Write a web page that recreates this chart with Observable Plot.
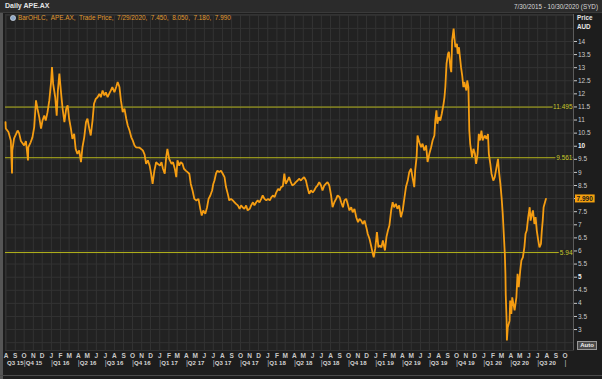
<!DOCTYPE html>
<html><head><meta charset="utf-8">
<script src="https://cdn.jsdelivr.net/npm/d3@7"></script>
<script src="https://cdn.jsdelivr.net/npm/@observablehq/plot@0.6"></script>
<style>
html,body{margin:0;padding:0;background:#1c1c1c;}
#wrap{position:relative;width:602px;height:379px;background:#1d1d1d;overflow:hidden;font-family:"Liberation Sans",Arial,sans-serif;box-sizing:border-box;}
#titlebar{position:absolute;left:0;top:0;width:602px;height:13px;background:#2b2b2b;border-bottom:1px solid #3a3a3a;box-sizing:border-box;}
#ttl{position:absolute;left:5px;top:2px;font-size:7px;font-weight:bold;color:#e4e4e4;}
#rng{position:absolute;right:4px;top:2.5px;font-size:6.3px;color:#d8d8d8;}
#chart{position:absolute;left:0;top:13px;}
#legend{position:absolute;left:10px;top:14px;font-size:6.4px;color:#e09a30;white-space:nowrap;display:flex;align-items:center;gap:2px;}
#price{position:absolute;left:577px;top:14px;font-size:6.3px;font-weight:bold;color:#e8e8e8;line-height:8.5px;}
#auto{position:absolute;left:577px;top:341px;width:18px;height:7px;border:1px solid #9a9a9a;background:#4a4a4a;color:#f0f0f0;font-size:6px;font-weight:bold;line-height:7px;text-align:center;}
#edgeL{position:absolute;left:0;top:13px;width:3px;height:366px;background:#555;}
#edgeB{position:absolute;left:0;top:375px;width:602px;height:1px;background:#4a4a4a;}
</style></head>
<body>
<div id="wrap">
  <div id="titlebar"><span id="ttl">Daily APE.AX</span><span id="rng">7/30/2015 - 10/30/2020 (SYD)</span></div>
  <div id="chart"></div>
  <div id="edgeL"></div>
  <div id="edgeB"></div>
  <div id="legend"><svg width="6" height="6" viewBox="0 0 6 6"><circle cx="3" cy="3" r="2.6" fill="#8fa7c4" stroke="#dde6f0" stroke-width="0.6"/></svg><span>BarOHLC,&nbsp; APE.AX,&nbsp; Trade Price,&nbsp; 7/29/2020,&nbsp; 7.450,&nbsp; 8.050,&nbsp; 7.180,&nbsp; 7.990</span></div>
  <div id="price">Price<br>AUD</div>
  <div id="auto">Auto</div>
</div>
<script>
// ---- data (daily closes) ----
const d15 = ["2015-07-30","2015-07-31","2015-08-09","2015-08-17","2015-08-21","2015-08-22","2015-08-28","2015-09-09","2015-09-14","2015-09-20","2015-10-01","2015-10-07","2015-10-14","2015-10-15","2015-10-23","2015-10-29","2015-11-04","2015-11-10","2015-11-15","2015-11-21","2015-11-27","2015-12-02","2015-12-08","2015-12-13","2015-12-19","2015-12-25","2015-12-31"];
const c15 = [10.92,10.68,10.54,10.22,8.96,9.84,10.30,10.60,10.50,10.20,10.03,10.20,9.46,9.96,10.15,10.34,10.73,11.75,11.43,11.11,10.67,10.98,11.17,10.98,11.30,11.75,12.45];
const d16 = ["2016-01-03","2016-01-07","2016-01-14","2016-01-19","2016-01-23","2016-01-28","2016-02-03","2016-02-08","2016-02-14","2016-02-20","2016-02-25","2016-03-01","2016-03-07","2016-03-12","2016-03-18","2016-03-23","2016-03-29","2016-04-04","2016-04-10","2016-04-15","2016-04-21","2016-04-27","2016-05-02","2016-05-08","2016-05-13","2016-05-19","2016-05-24","2016-05-30","2016-06-05","2016-06-11","2016-06-16","2016-06-22","2016-06-28","2016-07-03","2016-07-09","2016-07-14","2016-07-20","2016-07-25","2016-08-01","2016-08-07","2016-08-12","2016-08-18","2016-08-23","2016-08-29","2016-09-04","2016-09-10","2016-09-15","2016-09-21","2016-09-27","2016-10-02","2016-10-08","2016-10-13","2016-10-24","2016-11-05","2016-11-11","2016-11-16","2016-11-22","2016-11-28","2016-12-03","2016-12-08","2016-12-14","2016-12-20","2016-12-25"];
const c16 = [13.02,12.38,11.87,11.17,12.13,12.77,12.00,11.43,10.92,11.43,11.56,11.05,10.67,10.28,10.47,9.90,9.71,9.84,9.39,9.96,10.34,10.92,11.05,10.67,10.41,10.98,11.62,11.81,11.87,12.00,11.87,12.13,11.94,12.06,11.87,12.00,12.13,12.26,12.06,12.26,12.45,12.26,11.75,11.30,11.43,11.05,10.79,10.60,10.34,10.22,10.03,9.96,9.95,9.84,9.68,9.33,9.46,9.26,8.95,8.56,9.07,9.39,9.33];
const d17 = ["2017-01-02","2017-01-07","2017-01-12","2017-01-18","2017-01-23","2017-01-27","2017-02-02","2017-02-10","2017-02-15","2017-02-21","2017-02-26","2017-03-02","2017-03-08","2017-03-13","2017-03-19","2017-03-24","2017-03-30","2017-04-05","2017-04-11","2017-04-16","2017-04-22","2017-04-28","2017-05-05","2017-05-12","2017-05-18","2017-05-23","2017-05-28","2017-06-04","2017-06-10","2017-06-15","2017-06-21","2017-06-27","2017-07-01","2017-07-05","2017-07-10","2017-07-15","2017-07-21","2017-07-27","2017-08-02","2017-08-08","2017-08-13","2017-08-19","2017-08-24","2017-08-30","2017-09-05","2017-09-11","2017-09-16","2017-09-22","2017-09-28","2017-10-03","2017-10-08","2017-10-14","2017-10-20","2017-10-25","2017-11-01","2017-11-06","2017-11-12","2017-11-17","2017-11-23","2017-11-28","2017-12-04","2017-12-10","2017-12-15","2017-12-21","2017-12-27"];
const c17 = [9.26,9.39,9.14,8.95,9.59,9.90,9.52,9.33,9.39,9.14,8.82,9.46,9.26,9.39,9.33,9.14,9.07,9.01,8.95,8.56,8.31,7.99,7.93,7.99,7.61,7.35,7.55,7.42,7.67,7.99,8.12,8.31,8.56,8.69,8.95,9.07,9.01,9.07,8.95,8.82,8.44,8.18,7.93,7.99,7.93,7.86,7.80,7.74,7.61,7.74,7.67,7.61,7.74,7.55,7.61,7.74,7.86,7.74,7.86,7.93,7.86,7.99,8.12,7.99,7.93];
const d18 = ["2018-01-02","2018-01-08","2018-01-13","2018-01-19","2018-01-24","2018-01-30","2018-02-05","2018-02-10","2018-02-15","2018-02-21","2018-02-26","2018-03-03","2018-03-09","2018-03-14","2018-03-20","2018-03-25","2018-04-01","2018-04-06","2018-04-12","2018-04-17","2018-04-23","2018-04-28","2018-05-04","2018-05-10","2018-05-15","2018-05-21","2018-05-27","2018-06-02","2018-06-07","2018-06-13","2018-06-18","2018-06-24","2018-06-30","2018-07-05","2018-07-11","2018-07-16","2018-07-22","2018-07-28","2018-08-03","2018-08-08","2018-08-14","2018-08-20","2018-08-25","2018-09-01","2018-09-06","2018-09-12","2018-09-17","2018-09-23","2018-09-28","2018-10-04","2018-10-10","2018-10-15","2018-10-21","2018-10-27","2018-11-02","2018-11-07","2018-11-13","2018-11-18","2018-11-24","2018-11-30","2018-12-05","2018-12-11","2018-12-16","2018-12-22","2018-12-25","2018-12-30"];
const c18 = [7.99,7.93,8.05,8.12,8.05,8.24,8.37,8.31,8.44,8.47,8.95,8.56,8.69,8.82,8.63,8.50,8.56,8.63,8.69,8.76,8.69,8.76,8.82,8.69,8.44,8.18,8.31,8.24,8.31,8.44,8.50,8.63,8.50,8.31,8.50,8.56,8.63,8.50,8.12,7.67,7.86,7.99,8.12,8.05,7.86,7.67,7.93,7.99,7.80,7.55,7.67,7.48,7.61,7.29,7.10,7.23,7.16,7.03,7.16,6.91,6.65,6.46,6.21,5.89,5.76,6.08];
const d19 = ["2019-01-05","2019-01-10","2019-01-14","2019-01-20","2019-01-25","2019-02-01","2019-02-06","2019-02-11","2019-02-16","2019-02-22","2019-02-27","2019-03-04","2019-03-10","2019-03-15","2019-03-21","2019-03-27","2019-04-02","2019-04-08","2019-04-13","2019-04-19","2019-04-24","2019-04-30","2019-05-05","2019-05-11","2019-05-14","2019-05-19","2019-05-22","2019-05-28","2019-06-03","2019-06-08","2019-06-14","2019-06-20","2019-06-25","2019-07-01","2019-07-07","2019-07-12","2019-07-18","2019-07-21","2019-07-25","2019-07-28","2019-08-02","2019-08-07","2019-08-12","2019-08-18","2019-08-21","2019-08-24","2019-08-28","2019-09-02","2019-09-05","2019-09-10","2019-09-13","2019-09-16","2019-09-21","2019-09-24","2019-09-27","2019-10-02","2019-10-05","2019-10-09","2019-10-13","2019-10-16","2019-10-20","2019-10-24","2019-10-27","2019-11-03","2019-11-06","2019-11-10","2019-11-11","2019-11-13","2019-11-16","2019-11-19","2019-11-22","2019-11-27","2019-12-02","2019-12-06","2019-12-11","2019-12-15","2019-12-19","2019-12-24","2019-12-28"];
const c19 = [6.72,6.14,6.21,6.14,6.40,6.02,6.53,6.78,6.97,7.55,7.86,7.67,7.80,7.61,7.74,7.29,7.55,8.05,8.44,8.69,9.01,9.14,8.82,8.44,9.07,9.59,10.41,10.15,9.96,10.10,9.84,10.03,9.40,9.71,9.96,10.22,10.41,10.98,11.37,10.86,11.11,10.98,11.24,11.62,11.87,12.26,13.15,13.53,13.60,13.02,12.83,14.04,14.49,14.10,13.78,13.91,13.53,13.78,13.34,13.02,12.70,12.26,12.45,12.13,12.51,12.26,11.69,10.60,10.09,9.84,9.59,9.90,9.71,9.33,9.71,10.47,10.22,10.60,10.22];
const d20 = ["2020-01-04","2020-01-10","2020-01-15","2020-01-18","2020-01-23","2020-01-27","2020-02-02","2020-02-07","2020-02-13","2020-02-18","2020-02-21","2020-02-26","2020-03-01","2020-03-05","2020-03-09","2020-03-12","2020-03-14","2020-03-15","2020-03-18","2020-03-19","2020-03-22","2020-03-28","2020-03-30","2020-04-03","2020-04-06","2020-04-10","2020-04-14","2020-04-20","2020-04-24","2020-04-28","2020-05-03","2020-05-07","2020-05-12","2020-05-17","2020-05-21","2020-05-25","2020-05-30","2020-06-04","2020-06-07","2020-06-12","2020-06-15","2020-06-20","2020-06-24","2020-06-28","2020-07-03","2020-07-07","2020-07-12","2020-07-15","2020-07-18","2020-07-21","2020-07-29"];
const c20 = [10.41,10.28,10.47,9.71,9.33,8.95,8.69,8.82,9.20,9.52,9.07,8.56,8.05,7.42,6.53,5.89,5.13,4.36,3.34,2.58,3.09,3.34,4.11,3.60,4.23,3.98,3.73,4.23,5.13,4.62,5.25,5.64,5.76,6.14,6.66,6.78,7.29,7.67,7.16,7.42,7.55,7.03,7.29,6.78,6.40,6.14,6.27,6.78,7.16,7.67,7.99];

const levels = [11.495, 9.561, 5.94];
const levelLabels = ["11.495", "9.561", "5.94"];
const lastClose = [7.99];
const lastLabel = ["7.990"];
const yTicks = [3,3.5,4,4.5,5,5.5,6,6.5,7,7.5,8,8.5,9,9.5,10,10.5,11,11.5,12,12.5,13,13.5,14];
// the "8" label sits under the last-price box in the reference, so it is blank
const yTickLabels = ["3","3.5","4","4.5","5","5.5","6","6.5","7","7.5","","8.5","9","9.5","10","10.5","11","11.5","12","12.5","13","13.5","14"];
const monthLetters = ["J","F","M","A","M","J","J","A","S","O","N","D"];
const quarterStarts = ["2015-07-01","2015-10-01","2016-01-01","2016-04-01","2016-07-01","2016-10-01","2017-01-01","2017-04-01","2017-07-01","2017-10-01","2018-01-01","2018-04-01","2018-07-01","2018-10-01","2019-01-01","2019-04-01","2019-07-01","2019-10-01","2020-01-01","2020-04-01","2020-07-01"];
const quarterLabels = ["Q3 15","Q4 15","Q1 16","Q2 16","Q3 16","Q4 16","Q1 17","Q2 17","Q3 17","Q4 17","Q1 18","Q2 18","Q3 18","Q4 18","Q1 19","Q2 19","Q3 19","Q4 19","Q1 20","Q2 20","Q3 20"];
const rangeStart = "2015-07-30", rangeEnd = "2020-10-30";

// ---- build ----
const dates = [].concat(d15, d16, d17, d18, d19, d20).map(s => new Date(s));
const closes = [].concat(c15, c16, c17, c18, c19, c20);
const prices = dates.map((d, i) => ({date: d, close: closes[i]}));
const x0 = new Date(rangeStart), x1 = new Date(rangeEnd);
const months = d3.utcMonth.range(x0, x1);
const qDates = quarterStarts.map(s => new Date(s));
const qLabelPos = qDates.map(d => d < x0 ? x0 : d);
const qSeps = qDates.slice(1).concat([d3.utcMonth.offset(qDates[qDates.length - 1], 3)]);
const gridYTicks = d3.range(2.5, 15.01, 0.5);

const BG = "#222222";
const chart = Plot.plot({
  width: 602, height: 366,
  marginLeft: 5, marginRight: 29, marginTop: 1, marginBottom: 29,
  style: {background: "transparent", color: "#c9c9c9", fontFamily: "Liberation Sans, Arial, sans-serif", fontSize: "6.5px", overflow: "visible"},
  x: {type: "utc", domain: [x0, x1]},
  y: {domain: [2.2, 15.03]},
  marks: [
    Plot.frame({fill: BG, stroke: "#333"}),
    Plot.gridX({ticks: months, stroke: "#333333", strokeOpacity: 1}),
    Plot.gridY({ticks: gridYTicks, stroke: "#333333", strokeOpacity: 1}),
    Plot.ruleY(levels, {stroke: "#b4b41c", strokeWidth: 1}),
    Plot.line(prices, {x: "date", y: "close", stroke: "#f59d12", strokeWidth: 1.8, strokeLinejoin: "miter"}),
    Plot.text(levels, {y: d => d, text: (d, i) => levelLabels[i], frameAnchor: "right", textAnchor: "end", dx: -1, fill: "#c9c92c", stroke: BG, strokeWidth: 3, fontSize: 6.5}),
    Plot.ruleX([x1], {stroke: "#5c5c5c"}),
    Plot.axisY({anchor: "right", ticks: yTicks, tickSize: 3, tickPadding: 1.5, tickFormat: d => yTickLabels[yTicks.indexOf(d)], fontSize: 6.5, label: null}),
    Plot.text(lastClose, {y: d => d, text: (d, i) => lastLabel[i], frameAnchor: "right", textAnchor: "start", dx: 3, fill: "#1a1a1a", fontSize: 6.5, fontWeight: "bold"}),
    Plot.axisX({ticks: months, tickSize: 0, tickPadding: 3, tickFormat: d => monthLetters[d.getUTCMonth()], fontSize: 6.5, fontWeight: "bold", label: null}),
    Plot.text(qLabelPos, {x: d => d, text: (d, i) => quarterLabels[i], frameAnchor: "bottom", dy: 14.5, dx: 1.5, textAnchor: "start", fontSize: 6.1, fontWeight: "bold", fill: "#d4d4d4"}),
    Plot.text(qSeps, {x: d => d, text: () => "|", frameAnchor: "bottom", dy: 14.5, dx: 0.5, textAnchor: "middle", fontSize: 7.5, fill: "#bbbbbb"})
  ]
});
document.getElementById("chart").appendChild(chart);

// orange box behind the last-price label
d3.select(chart).selectAll("text").filter(function () { return this.textContent === lastLabel[0]; }).each(function () {
  const b = this.getBBox();
  const r = document.createElementNS("http://www.w3.org/2000/svg", "rect");
  r.setAttribute("x", b.x - 1.5); r.setAttribute("y", b.y - 0.5);
  r.setAttribute("width", b.width + 3); r.setAttribute("height", b.height + 1);
  r.setAttribute("fill", "#f5a00e");
  const t = this.getAttribute("transform"); if (t) r.setAttribute("transform", t);
  this.parentNode.insertBefore(r, this);
});
// emphasise whole-5 price ticks
d3.select(chart).selectAll("text").filter(function () { return this.textContent === "10" || this.textContent === "5"; })
  .attr("font-weight", "bold").attr("fill", "#f2f2f2");
</script>
</body></html>
